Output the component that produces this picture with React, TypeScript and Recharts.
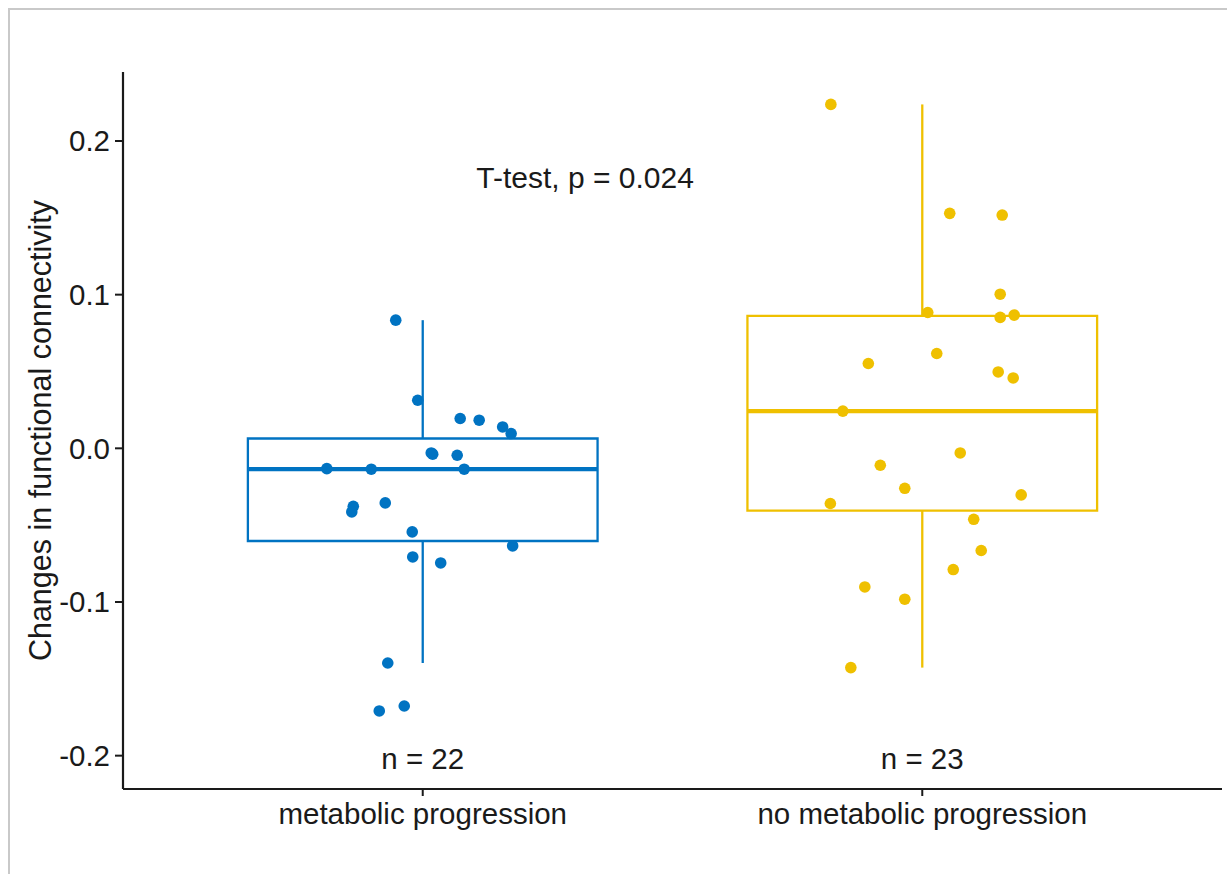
import {
  ComposedChart,
  Label,
  ReferenceArea,
  ReferenceDot,
  ReferenceLine,
  Scatter,
  XAxis,
  YAxis,
} from "recharts";

const GROUPS = ["metabolic progression", "no metabolic progression"];
const COLORS = ["#0073C2", "#EFC000"];
const COUNTS = ["n = 22", "n = 23"];
const Y_TICKS = [-0.2, -0.1, 0, 0.1, 0.2];
const P_LABEL = "T-test, p = 0.024";
const Y_TITLE = "Changes in functional connectivity";

// jittered points, values; jitter is the horizontal offset in category units
const progValues = [
  0.0834, 0.0313, 0.0194, 0.0183, 0.0139, 0.0096, -0.003, -0.0038, -0.0045, -0.0132, -0.0136,
  -0.0136, -0.0377, -0.0414, -0.0355, -0.0544, -0.0707, -0.0746, -0.0635, -0.1397, -0.1709, -0.1677,
];
const progJitter = [
  -0.054, -0.01, 0.075, 0.113, 0.16, 0.177, 0.017, 0.02, 0.069, -0.192, -0.103, 0.083, -0.139, -0.142,
  -0.075, -0.021, -0.02, 0.036, 0.18, -0.07, -0.087, -0.037,
];
const noProgValues = [
  0.2238, 0.1529, 0.1518, 0.1003, 0.0884, 0.0852, 0.0867, 0.0552, 0.0617, 0.0497, 0.0458, 0.0242,
  -0.003, -0.011, -0.026, -0.0359, -0.0303, -0.0462, -0.0665, -0.0789, -0.0902, -0.0982, -0.1427,
];
const noProgJitter = [
  -0.183, 0.055, 0.16, 0.156, 0.011, 0.156, 0.184, -0.108, 0.029, 0.152, 0.182, -0.159, 0.076, -0.084,
  -0.035, -0.184, 0.198, 0.103, 0.118, 0.062, -0.115, -0.035, -0.143,
];

// whisker low, q1, median, q3, whisker high
const progBox = [-0.1397, -0.0603, -0.0136, 0.0064, 0.0834];
const noProgBox = [-0.1427, -0.0405, 0.0242, 0.0862, 0.2238];

const BOX_HALF = 0.35;
const FONT = "'Liberation Sans', Arial, Helvetica, sans-serif";
const TEXT = "#1a1a1a";
const FS = 29.5;

const series = [
  { values: progValues, jitter: progJitter, box: progBox },
  { values: noProgValues, jitter: noProgJitter, box: noProgBox },
];

export default function App() {
  const boxes = series.flatMap((s, i) => {
    const cx = i + 1;
    const [lo, q1, med, q3, hi] = s.box;
    const color = COLORS[i];
    return [
      <ReferenceArea
        key={`box${i}`}
        x1={cx - BOX_HALF}
        x2={cx + BOX_HALF}
        y1={q1}
        y2={q3}
        fill="none"
        fillOpacity={0}
        stroke={color}
        strokeWidth={2.3}
      />,
      <ReferenceLine
        key={`med${i}`}
        segment={[
          { x: cx - BOX_HALF, y: med },
          { x: cx + BOX_HALF, y: med },
        ]}
        stroke={color}
        strokeWidth={4.3}
      />,
      <ReferenceLine
        key={`up${i}`}
        segment={[
          { x: cx, y: q3 },
          { x: cx, y: hi },
        ]}
        stroke={color}
        strokeWidth={2.3}
      />,
      <ReferenceLine
        key={`down${i}`}
        segment={[
          { x: cx, y: lo },
          { x: cx, y: q1 },
        ]}
        stroke={color}
        strokeWidth={2.3}
      />,
      <ReferenceDot key={`n${i}`} x={cx} y={-0.202} r={0} fill="none" stroke="none">
        <Label value={COUNTS[i]} position="center" fontSize={FS} fill={TEXT} fontFamily={FONT} />
      </ReferenceDot>,
    ];
  });

  return (
    <div style={{ position: "relative", width: 1227, height: 874, background: "#fff" }}>
      <style>{`body{margin:0;overflow:hidden}`}</style>
      <div
        style={{
          position: "absolute",
          left: 8,
          top: 8,
          width: 1219,
          height: 866,
          borderLeft: "2px solid #c9c9c9",
          borderTop: "2px solid #c9c9c9",
          boxSizing: "border-box",
        }}
      />
      <div style={{ position: "absolute", left: 0, top: 0 }}>
        <ComposedChart
          width={1227}
          height={874}
          margin={{ top: 72, right: 5, bottom: 25, left: 0 }}
          style={{ fontFamily: FONT }}
        >
          <XAxis
            type="number"
            dataKey="x"
            domain={[0.4, 2.6]}
            ticks={[1, 2]}
            tickFormatter={(v: number) => GROUPS[v - 1] ?? ""}
            allowDataOverflow
            height={60}
            tickSize={7}
            tickMargin={7}
            tick={{ fontSize: FS, fill: TEXT }}
            axisLine={{ stroke: TEXT, strokeWidth: 2.2 }}
            tickLine={{ stroke: TEXT, strokeWidth: 2 }}
          />
          <YAxis
            type="number"
            dataKey="y"
            domain={[-0.2217, 0.2449]}
            ticks={Y_TICKS}
            tickFormatter={(v: number) => v.toFixed(1)}
            allowDataOverflow
            width={123}
            tickSize={8}
            tickMargin={5}
            tick={{ fontSize: FS, fill: TEXT }}
            axisLine={{ stroke: TEXT, strokeWidth: 2.2 }}
            tickLine={{ stroke: TEXT, strokeWidth: 2 }}
          >
            <Label
              content={(props: any) => {
                const vb = props.viewBox;
                const cy = vb.y + vb.height / 2;
                return (
                  <text
                    x={40}
                    y={cy}
                    transform={`rotate(-90 40 ${cy})`}
                    textAnchor="middle"
                    dominantBaseline="central"
                    fontSize={30.5}
                    fill={TEXT}
                    fontFamily={FONT}
                  >
                    {Y_TITLE}
                  </text>
                );
              }}
            />
          </YAxis>
          {boxes}
          <ReferenceDot x={1.325} y={0.1762} r={0} fill="none" stroke="none">
            <Label value={P_LABEL} position="center" fontSize={30} fill={TEXT} fontFamily={FONT} />
          </ReferenceDot>
          {series.map((s, i) => (
            <Scatter
              key={GROUPS[i]}
              name={GROUPS[i]}
              data={s.values.map((v, j) => ({ x: i + 1 + s.jitter[j], y: v }))}
              fill={COLORS[i]}
              isAnimationActive={false}
              shape={(p: any) => <circle cx={p.cx} cy={p.cy} r={5.8} fill={COLORS[i]} />}
            />
          ))}
        </ComposedChart>
      </div>
    </div>
  );
}
